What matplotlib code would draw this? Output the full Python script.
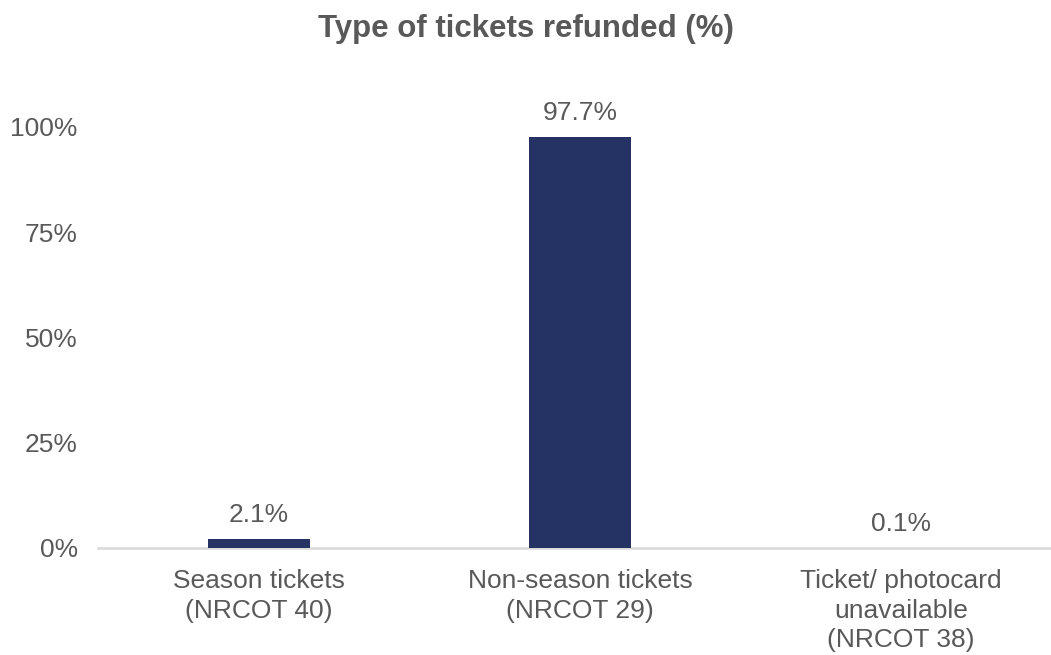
import matplotlib
matplotlib.use("Agg")
import matplotlib.pyplot as plt
from matplotlib.ticker import FuncFormatter

plt.rcParams['font.family'] = ['Liberation Sans', 'DejaVu Sans']

categories = ["Season tickets\n(NRCOT 40)", "Non-season tickets\n(NRCOT 29)",
              "Ticket/ photocard\nunavailable\n(NRCOT 38)"]
values = [2.1, 97.7, 0.1]
labels = ["2.1%", "97.7%", "0.1%"]
yticks = [0, 25, 50, 75, 100]

text_color = "#595959"
bar_color = "#253264"

fig = plt.figure(figsize=(10.51, 6.55), dpi=100)
ax = fig.add_axes([0.0937, 0.1634, 0.9163, 0.7713])
x = range(len(categories))
bars = ax.bar(x, values, width=0.315, color=bar_color, zorder=3)
ax.set_xlim(-0.5, 2.5)
ax.set_ylim(0, 120)
ax.set_yticks(yticks)
ax.yaxis.set_major_formatter(FuncFormatter(lambda v, p: f"{int(v)}%"))
ax.set_xticks(list(x))
ax.set_xticklabels(categories, linespacing=1.3)
for s in ["top", "right", "left"]:
    ax.spines[s].set_visible(False)
ax.spines["bottom"].set_color("#d9d9d9")
ax.spines["bottom"].set_linewidth(1.8)
ax.tick_params(axis="both", length=0, labelsize=19, colors=text_color)
ax.tick_params(axis="y", pad=15)
ax.tick_params(axis="x", pad=15)
for rect, lab in zip(bars, labels):
    ax.annotate(lab, (rect.get_x() + rect.get_width() / 2, rect.get_height()),
                xytext=(0, 12), textcoords="offset pixels",
                ha="center", va="bottom", fontsize=19, color=text_color)
fig.text(0.5, 0.955, "Type of tickets refunded (%)", ha="center", va="center",
         fontsize=22.5, fontweight="bold", color=text_color)
fig.savefig("out.png", dpi=100)
